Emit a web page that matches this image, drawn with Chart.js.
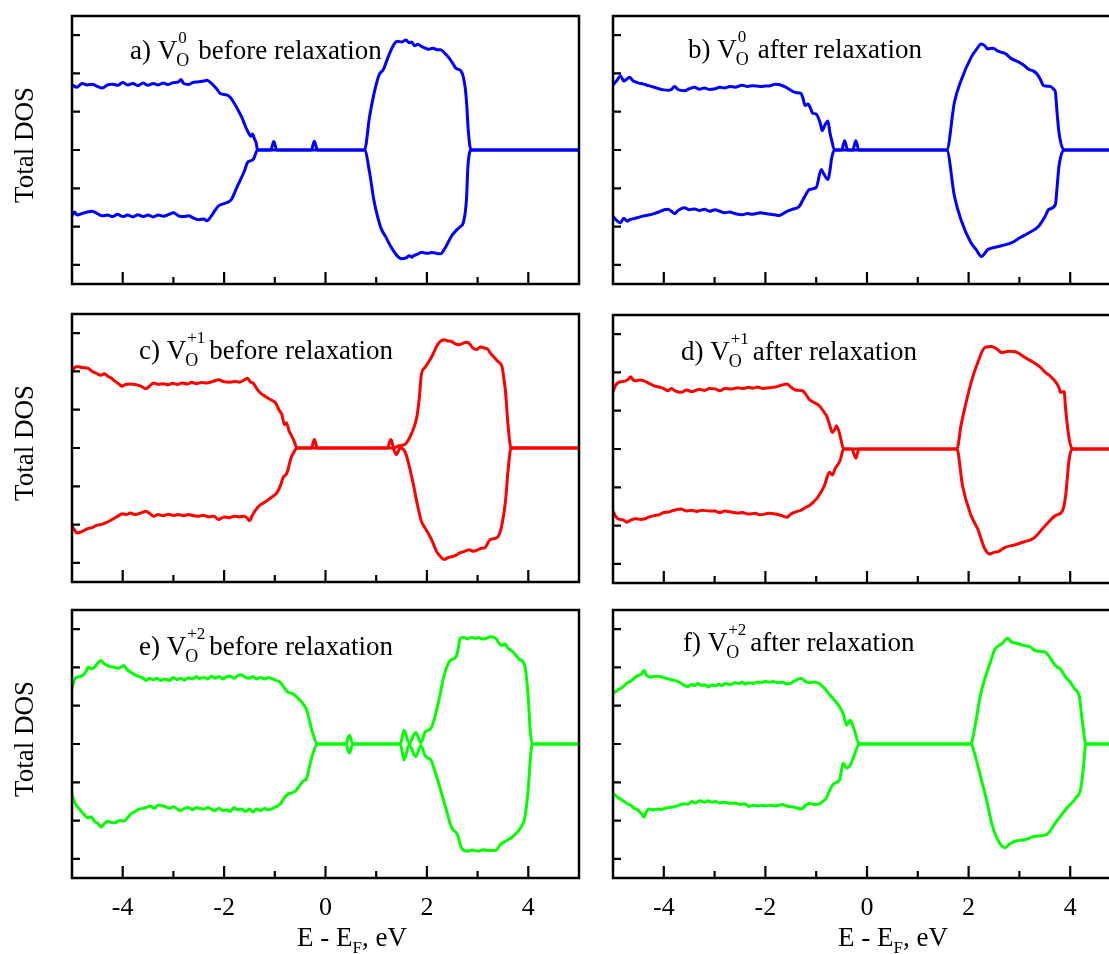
<!DOCTYPE html>
<html><head><meta charset="utf-8">
<script src="https://cdn.jsdelivr.net/npm/chart.js@4.4.0/dist/chart.umd.min.js"></script>
<style>
html,body{margin:0;padding:0;background:#fff;overflow:hidden;width:1109px;height:954px;}
.p{position:absolute;}
canvas{display:block;}
</style></head><body>
<div class="p" style="left:0;top:0"><canvas id="ca" width="600" height="300"></canvas></div>
<div class="p" style="left:600px;top:0"><canvas id="cb" width="530" height="300"></canvas></div>
<div class="p" style="left:0;top:300px"><canvas id="cc" width="600" height="300"></canvas></div>
<div class="p" style="left:600px;top:300px"><canvas id="cd" width="530" height="300"></canvas></div>
<div class="p" style="left:0;top:600px"><canvas id="ce" width="600" height="354"></canvas></div>
<div class="p" style="left:600px;top:600px"><canvas id="cf" width="530" height="354"></canvas></div>
<script>
// ---------- data ----------
const xTickValues = [-4, -3, -2, -1, 0, 1, 2, 3, 4];
const xTickLabels = ['-4', '-2', '0', '2', '4'];
const xLabelValues = [-4, -2, 0, 2, 4];
const yTickValues = [-3, -2, -1, 0, 1, 2, 3];
const panelLetters = ['a)', 'b)', 'c)', 'd)', 'e)', 'f)'];
const vacancyCharges = ['0', '0', '+1', '+1', '+2', '+2'];
const relaxStates = ['before relaxation', 'after relaxation', 'before relaxation', 'after relaxation', 'before relaxation', 'after relaxation'];
const yAxisTitle = 'Total DOS';
const xAxisTitle = ['E - E', 'F', ', eV'];

// [energy (eV), DOS] pairs, spin up (positive) and spin down (negative)
const aUp = [[-5.0,1.70],[-4.9,1.64],[-4.8,1.74],[-4.7,1.70],[-4.6,1.72],[-4.5,1.66],[-4.4,1.62],[-4.3,1.70],[-4.2,1.72],[-4.1,1.69],[-4.0,1.76],[-3.9,1.70],[-3.8,1.74],[-3.7,1.68],[-3.6,1.75],[-3.5,1.69],[-3.4,1.74],[-3.3,1.70],[-3.2,1.75],[-3.1,1.71],[-3.0,1.76],[-2.9,1.78],[-2.85,1.84],[-2.8,1.74],[-2.7,1.71],[-2.6,1.77],[-2.5,1.78],[-2.4,1.80],[-2.34,1.82],[-2.25,1.74],[-2.15,1.60],[-2.07,1.47],[-1.95,1.44],[-1.88,1.38],[-1.8,1.22],[-1.73,1.06],[-1.65,0.85],[-1.58,0.62],[-1.52,0.45],[-1.47,0.36],[-1.44,0.42],[-1.40,0.28],[-1.37,0.20],[-1.34,0],[-1.08,0],[-1.02,0.22],[-0.96,0],[-0.28,0],[-0.22,0.23],[-0.16,0],[0.77,0],[0.87,0.88],[0.97,1.55],[1.06,1.97],[1.14,2.10],[1.25,2.48],[1.36,2.78],[1.42,2.84],[1.50,2.82],[1.59,2.87],[1.65,2.80],[1.70,2.82],[1.76,2.72],[1.82,2.76],[1.90,2.70],[1.97,2.66],[2.04,2.63],[2.12,2.66],[2.20,2.62],[2.27,2.62],[2.33,2.56],[2.38,2.49],[2.45,2.38],[2.52,2.24],[2.57,2.14],[2.63,2.10],[2.68,2.05],[2.72,1.90],[2.76,1.58],[2.79,1.10],[2.81,0.62],[2.87,0],[5.0,0]];
const aDn = [[-5.0,-1.72],[-4.95,-1.62],[-4.9,-1.70],[-4.8,-1.66],[-4.7,-1.62],[-4.6,-1.60],[-4.5,-1.66],[-4.4,-1.72],[-4.3,-1.70],[-4.2,-1.74],[-4.1,-1.68],[-4.0,-1.74],[-3.9,-1.70],[-3.8,-1.75],[-3.7,-1.69],[-3.6,-1.74],[-3.5,-1.70],[-3.4,-1.75],[-3.3,-1.70],[-3.2,-1.73],[-3.1,-1.69],[-3.0,-1.64],[-2.9,-1.72],[-2.8,-1.74],[-2.7,-1.72],[-2.6,-1.78],[-2.5,-1.82],[-2.4,-1.80],[-2.34,-1.85],[-2.25,-1.72],[-2.18,-1.58],[-2.11,-1.46],[-2.0,-1.40],[-1.92,-1.36],[-1.85,-1.28],[-1.75,-0.98],[-1.69,-0.81],[-1.6,-0.55],[-1.54,-0.33],[-1.47,-0.28],[-1.42,-0.24],[-1.34,0],[0.77,0],[0.87,-0.59],[0.95,-1.28],[1.02,-1.70],[1.10,-2.06],[1.18,-2.25],[1.30,-2.55],[1.44,-2.80],[1.50,-2.84],[1.59,-2.82],[1.65,-2.76],[1.70,-2.80],[1.74,-2.76],[1.82,-2.72],[1.90,-2.67],[2.0,-2.70],[2.1,-2.68],[2.27,-2.71],[2.35,-2.58],[2.49,-2.24],[2.58,-2.10],[2.66,-2.00],[2.72,-1.89],[2.78,-1.30],[2.81,-0.42],[2.87,0],[5.0,0]];
const bUp = [[-5.0,1.70],[-4.92,1.82],[-4.85,1.94],[-4.79,1.80],[-4.72,1.86],[-4.67,1.90],[-4.60,1.80],[-4.52,1.76],[-4.40,1.72],[-4.30,1.68],[-4.19,1.64],[-4.10,1.60],[-4.00,1.57],[-3.92,1.56],[-3.85,1.58],[-3.79,1.66],[-3.72,1.58],[-3.59,1.55],[-3.50,1.60],[-3.39,1.64],[-3.30,1.59],[-3.20,1.62],[-3.10,1.58],[-2.99,1.60],[-2.90,1.64],[-2.80,1.62],[-2.70,1.66],[-2.60,1.64],[-2.46,1.69],[-2.35,1.66],[-2.25,1.68],[-2.10,1.66],[-2.00,1.67],[-1.90,1.68],[-1.80,1.72],[-1.73,1.71],[-1.60,1.64],[-1.50,1.56],[-1.40,1.50],[-1.30,1.48],[-1.26,1.35],[-1.22,1.16],[-1.16,1.20],[-1.10,1.05],[-1.07,0.96],[-1.00,0.94],[-0.92,0.70],[-0.88,0.50],[-0.84,0.62],[-0.77,0.76],[-0.73,0.45],[-0.70,0.28],[-0.64,0],[-0.50,0],[-0.44,0.24],[-0.38,0],[-0.28,0],[-0.22,0.24],[-0.16,0],[1.57,0],[1.72,1.24],[1.85,1.81],[2.05,2.42],[2.15,2.62],[2.25,2.77],[2.32,2.72],[2.38,2.64],[2.48,2.66],[2.58,2.58],[2.72,2.52],[2.85,2.38],[2.98,2.30],[3.08,2.22],[3.18,2.11],[3.28,2.06],[3.35,1.98],[3.41,1.85],[3.48,1.68],[3.61,1.66],[3.68,1.58],[3.71,1.50],[3.74,1.00],[3.78,0.45],[3.88,0],[5.0,0]];
const bDn = [[-5.0,-1.73],[-4.92,-1.85],[-4.85,-1.90],[-4.79,-1.78],[-4.72,-1.86],[-4.67,-1.82],[-4.52,-1.77],[-4.40,-1.72],[-4.30,-1.70],[-4.19,-1.66],[-4.10,-1.62],[-3.99,-1.56],[-3.92,-1.55],[-3.85,-1.60],[-3.79,-1.66],[-3.72,-1.58],[-3.59,-1.51],[-3.50,-1.56],[-3.39,-1.54],[-3.30,-1.58],[-3.20,-1.55],[-3.10,-1.60],[-2.99,-1.56],[-2.90,-1.60],[-2.80,-1.64],[-2.70,-1.62],[-2.60,-1.66],[-2.46,-1.69],[-2.35,-1.66],[-2.25,-1.68],[-2.10,-1.64],[-2.00,-1.66],[-1.90,-1.68],[-1.80,-1.70],[-1.73,-1.71],[-1.60,-1.62],[-1.47,-1.55],[-1.34,-1.48],[-1.22,-1.20],[-1.13,-1.03],[-1.00,-0.98],[-0.90,-0.51],[-0.86,-0.60],[-0.77,-0.77],[-0.72,-0.45],[-0.70,-0.24],[-0.64,0],[1.57,0],[1.72,-1.20],[1.85,-1.82],[2.05,-2.43],[2.15,-2.60],[2.25,-2.78],[2.38,-2.60],[2.52,-2.54],[2.65,-2.50],[2.85,-2.42],[3.00,-2.30],[3.18,-2.17],[3.38,-1.99],[3.50,-1.75],[3.58,-1.55],[3.71,-1.42],[3.74,-1.00],[3.78,-0.42],[3.88,0],[5.0,0]];
const cUp = [[-5.0,2.00],[-4.95,2.10],[-4.90,2.13],[-4.80,2.10],[-4.68,2.08],[-4.60,2.00],[-4.52,1.95],[-4.43,1.90],[-4.36,1.94],[-4.30,1.88],[-4.22,1.82],[-4.15,1.74],[-4.08,1.68],[-4.01,1.61],[-3.95,1.66],[-3.85,1.67],[-3.75,1.66],[-3.65,1.62],[-3.54,1.55],[-3.46,1.63],[-3.39,1.70],[-3.30,1.66],[-3.20,1.68],[-3.10,1.65],[-3.02,1.69],[-2.92,1.66],[-2.82,1.70],[-2.72,1.67],[-2.64,1.72],[-2.55,1.68],[-2.45,1.71],[-2.34,1.70],[-2.22,1.74],[-2.11,1.78],[-2.00,1.73],[-1.88,1.72],[-1.78,1.74],[-1.70,1.72],[-1.60,1.78],[-1.54,1.82],[-1.48,1.72],[-1.43,1.70],[-1.36,1.56],[-1.28,1.43],[-1.20,1.36],[-1.13,1.30],[-1.05,1.24],[-0.98,1.17],[-0.92,1.00],[-0.86,0.87],[-0.81,0.61],[-0.77,0.66],[-0.72,0.45],[-0.68,0.35],[-0.62,0.18],[-0.56,0],[-0.28,0],[-0.22,0.22],[-0.16,0],[1.22,0],[1.29,0.22],[1.35,0],[1.45,0.06],[1.57,0.10],[1.70,0.39],[1.80,0.80],[1.85,1.30],[1.89,1.91],[1.96,2.10],[2.04,2.26],[2.12,2.45],[2.19,2.65],[2.26,2.78],[2.34,2.83],[2.40,2.80],[2.49,2.78],[2.56,2.72],[2.65,2.70],[2.72,2.74],[2.78,2.76],[2.83,2.74],[2.90,2.62],[2.98,2.57],[3.05,2.64],[3.14,2.61],[3.20,2.58],[3.25,2.48],[3.34,2.35],[3.40,2.26],[3.48,2.13],[3.52,1.80],[3.55,1.48],[3.60,0.60],[3.66,0],[5.0,0]];
const cDn = [[-5.0,-2.05],[-4.95,-2.14],[-4.90,-2.22],[-4.80,-2.18],[-4.68,-2.10],[-4.60,-2.08],[-4.52,-2.02],[-4.43,-2.00],[-4.35,-1.96],[-4.25,-1.90],[-4.15,-1.82],[-4.07,-1.76],[-4.01,-1.72],[-3.92,-1.74],[-3.85,-1.70],[-3.75,-1.74],[-3.65,-1.70],[-3.54,-1.65],[-3.46,-1.72],[-3.39,-1.78],[-3.30,-1.74],[-3.20,-1.77],[-3.10,-1.73],[-3.00,-1.76],[-2.90,-1.74],[-2.80,-1.77],[-2.70,-1.74],[-2.60,-1.77],[-2.50,-1.78],[-2.40,-1.76],[-2.30,-1.80],[-2.20,-1.78],[-2.11,-1.87],[-2.00,-1.80],[-1.90,-1.82],[-1.80,-1.78],[-1.70,-1.80],[-1.60,-1.78],[-1.54,-1.84],[-1.50,-1.90],[-1.45,-1.78],[-1.38,-1.62],[-1.28,-1.48],[-1.20,-1.42],[-1.13,-1.35],[-1.05,-1.27],[-0.96,-1.17],[-0.88,-0.95],[-0.84,-0.78],[-0.76,-0.65],[-0.68,-0.26],[-0.62,-0.10],[-0.56,0],[1.32,0],[1.40,-0.17],[1.47,0],[1.57,-0.10],[1.72,-0.87],[1.80,-1.40],[1.89,-1.91],[1.96,-2.08],[2.04,-2.26],[2.12,-2.48],[2.19,-2.70],[2.27,-2.84],[2.34,-2.91],[2.42,-2.86],[2.49,-2.84],[2.58,-2.80],[2.65,-2.74],[2.74,-2.70],[2.83,-2.66],[2.92,-2.70],[3.00,-2.66],[3.08,-2.62],[3.14,-2.61],[3.25,-2.39],[3.40,-2.32],[3.48,-2.00],[3.55,-1.39],[3.60,-0.60],[3.66,0],[5.0,0]];
const dUp = [[-5.0,1.50],[-4.95,1.66],[-4.89,1.74],[-4.82,1.76],[-4.75,1.78],[-4.70,1.82],[-4.65,1.89],[-4.60,1.80],[-4.56,1.78],[-4.48,1.80],[-4.39,1.78],[-4.30,1.72],[-4.19,1.65],[-4.10,1.62],[-4.00,1.58],[-3.92,1.52],[-3.85,1.58],[-3.78,1.52],[-3.66,1.48],[-3.55,1.54],[-3.45,1.50],[-3.39,1.52],[-3.30,1.56],[-3.20,1.53],[-3.10,1.58],[-2.99,1.57],[-2.90,1.52],[-2.80,1.58],[-2.66,1.57],[-2.55,1.60],[-2.45,1.58],[-2.33,1.61],[-2.25,1.59],[-2.15,1.62],[-2.05,1.58],[-1.93,1.60],[-1.80,1.62],[-1.70,1.66],[-1.57,1.70],[-1.50,1.62],[-1.40,1.54],[-1.27,1.52],[-1.20,1.42],[-1.14,1.30],[-1.05,1.22],[-0.94,1.13],[-0.84,0.95],[-0.79,0.85],[-0.74,0.65],[-0.68,0.43],[-0.64,0.50],[-0.60,0.61],[-0.53,0.35],[-0.46,0],[1.77,0],[1.85,0.61],[1.92,1.04],[2.05,1.74],[2.18,2.26],[2.32,2.65],[2.45,2.68],[2.55,2.62],[2.65,2.52],[2.78,2.55],[2.92,2.54],[3.02,2.47],[3.11,2.39],[3.28,2.26],[3.41,2.14],[3.51,2.00],[3.61,1.90],[3.71,1.76],[3.78,1.60],[3.81,1.48],[3.88,1.50],[3.91,1.04],[3.98,0.26],[4.04,0],[5.0,0]];
const dDn = [[-5.0,-1.62],[-4.95,-1.76],[-4.89,-1.83],[-4.80,-1.85],[-4.73,-1.91],[-4.65,-1.86],[-4.56,-1.82],[-4.45,-1.84],[-4.39,-1.83],[-4.30,-1.78],[-4.19,-1.74],[-4.10,-1.72],[-4.00,-1.66],[-3.92,-1.65],[-3.80,-1.60],[-3.66,-1.57],[-3.55,-1.62],[-3.45,-1.60],[-3.35,-1.63],[-3.25,-1.60],[-3.10,-1.62],[-2.99,-1.62],[-2.90,-1.66],[-2.80,-1.62],[-2.66,-1.65],[-2.55,-1.67],[-2.45,-1.66],[-2.33,-1.70],[-2.20,-1.68],[-2.10,-1.72],[-1.93,-1.68],[-1.80,-1.70],[-1.70,-1.73],[-1.57,-1.78],[-1.50,-1.70],[-1.40,-1.64],[-1.30,-1.60],[-1.20,-1.52],[-1.14,-1.48],[-1.05,-1.38],[-0.97,-1.26],[-0.84,-0.96],[-0.74,-0.61],[-0.68,-0.68],[-0.63,-0.52],[-0.53,-0.30],[-0.46,0],[-0.30,0],[-0.22,-0.24],[-0.16,0],[1.77,0],[1.88,-0.96],[2.05,-1.74],[2.18,-2.09],[2.32,-2.61],[2.42,-2.74],[2.50,-2.70],[2.58,-2.68],[2.72,-2.57],[2.92,-2.50],[3.08,-2.43],[3.28,-2.33],[3.51,-2.00],[3.71,-1.74],[3.85,-1.61],[3.91,-1.22],[3.98,-0.26],[4.04,0],[5.0,0]];
const eUp = [[-5.0,1.45],[-4.94,1.71],[-4.85,1.76],[-4.79,1.79],[-4.72,1.90],[-4.68,2.01],[-4.62,1.96],[-4.56,2.00],[-4.50,2.10],[-4.43,2.18],[-4.37,2.10],[-4.30,2.05],[-4.22,2.02],[-4.15,2.00],[-4.08,1.98],[-3.98,2.05],[-3.92,1.95],[-3.85,1.88],[-3.75,1.80],[-3.69,1.77],[-3.60,1.72],[-3.54,1.66],[-3.47,1.72],[-3.40,1.68],[-3.32,1.72],[-3.25,1.66],[-3.17,1.70],[-3.08,1.66],[-3.00,1.74],[-2.92,1.68],[-2.86,1.72],[-2.78,1.67],[-2.70,1.73],[-2.62,1.70],[-2.55,1.76],[-2.49,1.71],[-2.40,1.74],[-2.32,1.70],[-2.25,1.77],[-2.18,1.72],[-2.10,1.76],[-2.02,1.70],[-1.95,1.76],[-1.88,1.77],[-1.80,1.72],[-1.74,1.78],[-1.66,1.81],[-1.58,1.74],[-1.50,1.72],[-1.43,1.76],[-1.36,1.70],[-1.28,1.74],[-1.20,1.70],[-1.12,1.74],[-1.05,1.71],[-0.98,1.66],[-0.90,1.62],[-0.82,1.48],[-0.75,1.36],[-0.68,1.33],[-0.60,1.27],[-0.52,1.16],[-0.45,1.06],[-0.37,0.88],[-0.31,0.58],[-0.26,0.32],[-0.16,0],[0.40,0],[0.47,0.23],[0.54,0],[1.475,0],[1.55,0.36],[1.65,0.02],[1.78,0.30],[1.88,0.04],[1.97,0.32],[2.08,0.41],[2.15,0.67],[2.23,1.10],[2.34,1.79],[2.46,2.18],[2.57,2.27],[2.62,2.50],[2.65,2.74],[2.72,2.79],[2.80,2.74],[2.88,2.79],[2.95,2.76],[3.02,2.78],[3.10,2.74],[3.17,2.76],[3.25,2.80],[3.36,2.76],[3.42,2.64],[3.48,2.57],[3.54,2.62],[3.59,2.52],[3.70,2.40],[3.82,2.22],[3.93,2.05],[4.00,1.19],[4.04,0.32],[4.08,0],[5.0,0]];
const eDn = [[-5.0,-1.32],[-4.94,-1.55],[-4.85,-1.70],[-4.79,-1.80],[-4.68,-1.93],[-4.62,-1.90],[-4.56,-2.02],[-4.50,-2.06],[-4.43,-2.17],[-4.36,-2.08],[-4.30,-2.02],[-4.22,-2.05],[-4.15,-2.06],[-4.05,-1.99],[-3.98,-2.02],[-3.90,-1.92],[-3.85,-1.84],[-3.75,-1.76],[-3.69,-1.71],[-3.60,-1.68],[-3.54,-1.66],[-3.45,-1.62],[-3.38,-1.68],[-3.30,-1.60],[-3.17,-1.63],[-3.08,-1.68],[-3.00,-1.64],[-2.92,-1.70],[-2.86,-1.74],[-2.78,-1.68],[-2.70,-1.66],[-2.62,-1.72],[-2.55,-1.66],[-2.49,-1.68],[-2.40,-1.70],[-2.32,-1.66],[-2.25,-1.70],[-2.18,-1.74],[-2.10,-1.68],[-2.02,-1.74],[-1.95,-1.72],[-1.88,-1.76],[-1.80,-1.66],[-1.74,-1.72],[-1.66,-1.70],[-1.58,-1.76],[-1.50,-1.70],[-1.43,-1.78],[-1.36,-1.70],[-1.28,-1.74],[-1.20,-1.68],[-1.12,-1.72],[-1.05,-1.69],[-0.98,-1.64],[-0.90,-1.58],[-0.82,-1.42],[-0.75,-1.32],[-0.68,-1.28],[-0.60,-1.24],[-0.52,-1.10],[-0.45,-0.98],[-0.37,-0.89],[-0.31,-0.55],[-0.26,-0.30],[-0.16,0],[0.40,0],[0.47,-0.24],[0.54,0],[1.475,0],[1.55,-0.42],[1.65,-0.02],[1.78,-0.33],[1.88,-0.04],[1.97,-0.32],[2.08,-0.42],[2.15,-0.68],[2.26,-1.15],[2.38,-1.71],[2.49,-2.19],[2.60,-2.36],[2.68,-2.71],[2.80,-2.80],[2.90,-2.77],[3.02,-2.80],[3.10,-2.76],[3.20,-2.78],[3.36,-2.78],[3.45,-2.62],[3.55,-2.54],[3.70,-2.41],[3.85,-2.19],[3.93,-1.93],[4.00,-1.15],[4.04,-0.40],[4.08,0],[5.0,0]];
const fUp = [[-5.0,1.32],[-4.92,1.40],[-4.85,1.45],[-4.78,1.52],[-4.72,1.60],[-4.65,1.64],[-4.59,1.71],[-4.52,1.78],[-4.45,1.82],[-4.39,1.92],[-4.34,1.80],[-4.29,1.75],[-4.20,1.76],[-4.12,1.77],[-4.06,1.76],[-3.98,1.72],[-3.90,1.70],[-3.79,1.66],[-3.70,1.62],[-3.62,1.55],[-3.53,1.50],[-3.45,1.56],[-3.40,1.52],[-3.33,1.58],[-3.25,1.53],[-3.18,1.55],[-3.13,1.49],[-3.05,1.54],[-2.98,1.52],[-2.92,1.56],[-2.86,1.53],[-2.78,1.58],[-2.70,1.55],[-2.60,1.60],[-2.52,1.58],[-2.45,1.62],[-2.40,1.56],[-2.33,1.60],[-2.25,1.58],[-2.15,1.62],[-2.08,1.60],[-2.00,1.64],[-1.92,1.61],[-1.85,1.63],[-1.75,1.60],[-1.67,1.62],[-1.58,1.57],[-1.50,1.59],[-1.40,1.66],[-1.30,1.72],[-1.22,1.64],[-1.14,1.60],[-1.05,1.62],[-0.94,1.58],[-0.87,1.50],[-0.80,1.40],[-0.73,1.28],[-0.67,1.19],[-0.60,1.08],[-0.54,0.97],[-0.47,0.80],[-0.40,0.49],[-0.33,0.62],[-0.26,0.41],[-0.15,0],[2.04,0],[2.12,0.41],[2.22,1.19],[2.32,1.71],[2.42,2.10],[2.52,2.48],[2.65,2.61],[2.77,2.76],[2.85,2.66],[2.92,2.64],[3.02,2.60],[3.11,2.57],[3.21,2.54],[3.31,2.44],[3.41,2.42],[3.51,2.40],[3.61,2.24],[3.71,2.05],[3.81,1.95],[3.91,1.75],[4.01,1.60],[4.08,1.45],[4.18,1.23],[4.24,0.58],[4.31,0],[5.0,0]];
const fDn = [[-5.0,-1.28],[-4.92,-1.38],[-4.85,-1.44],[-4.78,-1.50],[-4.72,-1.56],[-4.65,-1.60],[-4.59,-1.67],[-4.52,-1.72],[-4.45,-1.80],[-4.39,-1.91],[-4.34,-1.76],[-4.29,-1.70],[-4.20,-1.72],[-4.12,-1.70],[-4.06,-1.71],[-3.98,-1.68],[-3.90,-1.66],[-3.79,-1.64],[-3.70,-1.60],[-3.60,-1.56],[-3.53,-1.58],[-3.45,-1.50],[-3.38,-1.54],[-3.30,-1.48],[-3.20,-1.52],[-3.13,-1.48],[-3.05,-1.52],[-2.98,-1.50],[-2.90,-1.54],[-2.80,-1.52],[-2.70,-1.55],[-2.60,-1.54],[-2.50,-1.58],[-2.40,-1.56],[-2.33,-1.63],[-2.25,-1.60],[-2.15,-1.62],[-2.05,-1.60],[-2.00,-1.62],[-1.90,-1.60],[-1.80,-1.62],[-1.67,-1.58],[-1.58,-1.62],[-1.50,-1.64],[-1.40,-1.66],[-1.30,-1.70],[-1.22,-1.62],[-1.14,-1.55],[-1.05,-1.58],[-0.94,-1.57],[-0.87,-1.50],[-0.80,-1.41],[-0.73,-1.20],[-0.67,-1.06],[-0.60,-1.00],[-0.54,-0.94],[-0.47,-0.50],[-0.40,-0.63],[-0.33,-0.55],[-0.26,-0.33],[-0.15,0],[2.04,0],[2.16,-0.46],[2.26,-0.98],[2.36,-1.50],[2.46,-2.10],[2.59,-2.54],[2.72,-2.71],[2.80,-2.62],[2.92,-2.54],[3.11,-2.50],[3.31,-2.41],[3.54,-2.36],[3.71,-2.06],[3.91,-1.71],[4.11,-1.41],[4.21,-1.15],[4.26,-0.60],[4.31,0],[5.0,0]];

const panelSeries = [[aUp, aDn], [bUp, bDn], [cUp, cDn], [dUp, dDn], [eUp, eDn], [fUp, fDn]];
const lineColors = ['#0000ff', '#0000ff', '#ff0000', '#ff0000', '#00ff00', '#00ff00'];

// ---------- layout ----------
const SERIF = '"Liberation Serif", "Times New Roman", Times, serif';
const canvasIds = ['ca', 'cb', 'cc', 'cd', 'ce', 'cf'];
const paddings = [
  {left: 72, right: 21, top: 16, bottom: 16},
  {left: 13, right: 9, top: 16, bottom: 16},
  {left: 72, right: 21, top: 14, bottom: 18},
  {left: 13, right: 9, top: 15, bottom: 17},
  {left: 72, right: 21, top: 10, bottom: 76},
  {left: 13, right: 9, top: 10, bottom: 76}
];
const labelOffsets = [[58, 43], [75, 41.5], [67, 44.5], [68, 44.5], [67, 45], [70, 41]];

function drawPanelLabel(ctx, x, y, letter, charge, state) {
  ctx.fillStyle = '#000';
  ctx.textAlign = 'left';
  ctx.textBaseline = 'alphabetic';
  ctx.font = '27px ' + SERIF;
  const head = letter + ' V';
  ctx.fillText(head, x, y);
  const x1 = x + ctx.measureText(head).width;
  ctx.font = '17px ' + SERIF;
  ctx.fillText(charge, x1 + 1, y - 16);
  const wSup = ctx.measureText(charge).width + 1;
  ctx.font = '18px ' + SERIF;
  ctx.fillText('O', x1 - 1, y + 7);
  const wSub = ctx.measureText('O').width - 1;
  ctx.font = '27px ' + SERIF;
  ctx.fillText(state, Math.max(x1 + wSub + 9, x1 + wSup + 4), y);
}

function makePlugin(idx) {
  const left = idx % 2 === 0;
  const bottom = idx >= 4;
  return {
    id: 'frame' + idx,
    afterDatasetsDraw(chart) {
      const {ctx, chartArea: ca, scales: {x, y}} = chart;
      ctx.save();
      ctx.strokeStyle = '#000';
      ctx.lineWidth = 2.5;
      ctx.lineCap = 'butt';
      ctx.strokeRect(ca.left, ca.top, ca.right - ca.left, ca.bottom - ca.top);
      ctx.lineWidth = 2.2;
      ctx.beginPath();
      yTickValues.forEach(v => {
        const py = y.getPixelForValue(v);
        ctx.moveTo(ca.left, py);
        ctx.lineTo(ca.left + 8, py);
      });
      xTickValues.forEach(v => {
        const px = x.getPixelForValue(v);
        const len = (v % 2 === 0) ? 12 : 7;
        ctx.moveTo(px, ca.bottom);
        ctx.lineTo(px, ca.bottom - len);
      });
      ctx.stroke();

      const [ox, oy] = labelOffsets[idx];
      drawPanelLabel(ctx, ca.left + ox, ca.top + oy, panelLetters[idx], vacancyCharges[idx], relaxStates[idx]);

      ctx.fillStyle = '#000';
      if (left) {
        ctx.save();
        ctx.font = '27px ' + SERIF;
        ctx.textAlign = 'center';
        ctx.textBaseline = 'alphabetic';
        ctx.translate(33, (ca.top + ca.bottom) / 2 - 5);
        ctx.rotate(-Math.PI / 2);
        ctx.fillText(yAxisTitle, 0, 0);
        ctx.restore();
      }
      if (bottom) {
        ctx.font = '26px ' + SERIF;
        ctx.textAlign = 'center';
        ctx.textBaseline = 'alphabetic';
        xLabelValues.forEach((v, i) => {
          ctx.fillText(xTickLabels[i], x.getPixelForValue(v), ca.bottom + 37);
        });
        ctx.textAlign = 'left';
        const base = ca.bottom + 68;
        let tx = ca.left + 225;
        ctx.font = '27px ' + SERIF;
        ctx.fillText(xAxisTitle[0], tx, base);
        tx += ctx.measureText(xAxisTitle[0]).width;
        ctx.font = '17px ' + SERIF;
        ctx.fillText(xAxisTitle[1], tx, base + 7);
        tx += ctx.measureText(xAxisTitle[1]).width;
        ctx.font = '27px ' + SERIF;
        ctx.fillText(xAxisTitle[2], tx, base);
      }
      ctx.restore();
    }
  };
}

canvasIds.forEach((id, idx) => {
  const [up, dn] = panelSeries[idx];
  const mk = arr => arr.map(p => ({x: p[0], y: p[1]}));
  const style = {borderColor: lineColors[idx], borderWidth: 3, pointRadius: 0, cubicInterpolationMode: 'monotone', fill: false, borderJoinStyle: 'round'};
  new Chart(document.getElementById(id), {
    type: 'line',
    data: {
      datasets: [
        Object.assign({label: 'spin up', data: mk(up)}, style),
        Object.assign({label: 'spin down', data: mk(dn)}, style)
      ]
    },
    options: {
      responsive: false,
      animation: false,
      devicePixelRatio: 1,
      layout: {padding: paddings[idx]},
      plugins: {legend: {display: false}, tooltip: {enabled: false}},
      scales: {
        x: {type: 'linear', min: -5, max: 5, display: false},
        y: {type: 'linear', min: -3.5, max: 3.5, display: false}
      }
    },
    plugins: [makePlugin(idx)]
  });
});
</script>
</body></html>
